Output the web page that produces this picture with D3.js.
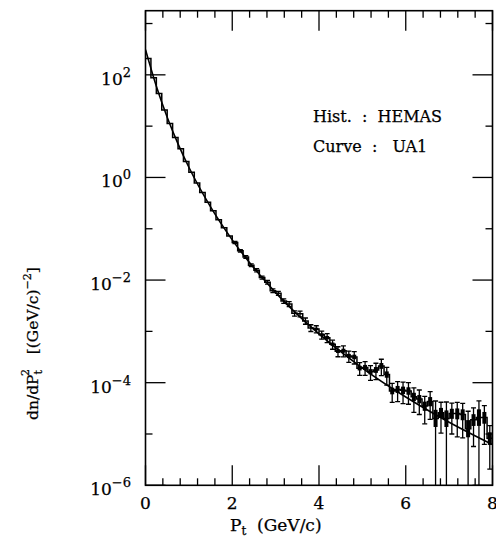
<!DOCTYPE html>
<html>
<head>
<meta charset="utf-8">
<script src="https://cdn.jsdelivr.net/npm/d3@7"></script>
<style>
  body { margin: 0; background: #fff; }
  text { font-family: "DejaVu Serif", serif; fill: #000; stroke: #000; stroke-width: 0.25; white-space: pre; }
</style>
</head>
<body>
<div id="chart"></div>
<script>
// histogram bins (HEMAS), width 0.125 GeV/c
var binWidth = 0.125;
var histValues = [
  208, 87.3, 43.3, 20.7, 11.2, 6.01, 3.61, 2.04,
  1.27, 0.778, 0.511, 0.327, 0.224, 0.149, 0.105, 0.0723,
  0.0538, 0.0371, 0.0283, 0.0195, 0.01556, 0.0112, 0.0091, 0.00621,
  0.00551, 0.00391, 0.00343, 0.00225, 0.00220, 0.00160, 0.00117, 0.00111,
  8.59e-4, 7.52e-4, 5.61e-4, 4.11e-4, 4.19e-4, 3.31e-4, 3.17e-4, 1.92e-4,
  1.98e-4, 1.63e-4, 1.77e-4, 2.12e-4, 1.44e-4, 6.9e-5, 7.4e-5, 7.1e-5,
  6.9e-5, 5.3e-5, 4.8e-5, 3.5e-5, 4.3e-5, 2.0e-5, 2.6e-5, 2.0e-5,
  2.5e-5, 2.5e-5, 2.4e-5, 1.26e-5, 1.9e-5, 2.1e-5, 2.1e-5, 8.3e-6
];
// relative errors of each bin
var histErrors = [
  0.02, 0.02, 0.02, 0.02, 0.02, 0.02, 0.02, 0.02,
  0.02, 0.02, 0.02, 0.02, 0.02, 0.02, 0.02, 0.02,
  0.05, 0.05, 0.06, 0.06, 0.07, 0.07, 0.08, 0.08,
  0.09, 0.10, 0.11, 0.12, 0.13, 0.14, 0.15, 0.16,
  0.18, 0.20, 0.20, 0.22, 0.24, 0.25, 0.27, 0.28,
  0.30, 0.32, 0.35, 0.35, 0.38, 0.40, 0.42, 0.45,
  0.45, 0.50, 0.50, 0.55, 0.55, 1.20, 0.60, 1.10,
  0.60, 0.65, 0.65, 1.20, 0.70, 1.10, 0.70, 0.75
];

// UA1 curve, points
var curvePt = [0, 0.25, 0.5, 0.75, 1, 1.5, 2, 2.5, 3, 3.5, 4, 5, 6, 7, 8];
var curveVal = [309, 59.6, 14.9, 4.52, 1.58, 0.267, 0.0608, 0.0172, 0.0057,
                0.00215, 8.9e-4, 1.93e-4, 5.25e-5, 1.69e-5, 6.2e-6];

var xMajor = [0, 2, 4, 6, 8];
var yMajorExp = [2, 0, -2, -4, -6];

var W = 496, H = 537;
var svg = d3.select("#chart").append("svg")
    .attr("width", W)
    .attr("height", H);

var x = d3.scaleLinear().domain([0, 8]).range([145.5, 492.5]);
var y = d3.scaleLog().domain([1e-6, Math.pow(10, 3.25)]).range([485.3, 10.7]).clamp(true);

var x0 = x(0), x1 = x(8), y0 = y.range()[0], y1 = y.range()[1];

// clip for the data
svg.append("clipPath").attr("id", "clip")
  .append("rect")
    .attr("x", x0).attr("y", y1)
    .attr("width", x1 - x0).attr("height", y0 - y1);

var plot = svg.append("g").attr("clip-path", "url(#clip)");

// histogram steps
var steps = [];
histValues.forEach(function (v, i) {
    steps.push([i * binWidth, v]);
    steps.push([(i + 1) * binWidth, v]);
});
var stepLine = d3.line()
    .x(function (d) { return x(d[0]); })
    .y(function (d) { return y(d[1]); });

plot.append("path")
    .datum(steps)
    .attr("d", stepLine)
    .attr("fill", "none")
    .attr("stroke", "#000")
    .attr("stroke-width", 1.5);

// error bars
var bins = histValues.map(function (v, i) {
    return {v: v, e: histErrors[i], c: (i + 0.5) * binWidth};
});

var bars = plot.append("g").selectAll("g")
    .data(bins.filter(function (d) { return d.e > 0.04; }))
    .enter().append("g");

bars.each(function (d) {
    var g = d3.select(this);
    var cx = x(d.c);
    var hi = d.v * (1 + d.e);
    var lo = d.v * (1 - d.e);
    g.append("line")
        .attr("x1", cx).attr("x2", cx)
        .attr("y1", y(hi))
        .attr("y2", lo > 0 ? y(lo) : y0)
        .attr("stroke", "#000").attr("stroke-width", 1.3);
    var ends = [hi];
    if (lo > 0) ends.push(lo);
    ends.forEach(function (e) {
        g.append("line")
            .attr("x1", cx - 2.5).attr("x2", cx + 2.5)
            .attr("y1", y(e)).attr("y2", y(e))
            .attr("stroke", "#000").attr("stroke-width", 1.3);
    });
    // dark block around the value
    if (d.e > 0.15) {
        var top = y(d.v * (1 + d.e * 0.4));
        var bot = y(d.v * (1 - Math.min(d.e, 0.9) * 0.35));
        g.append("rect")
            .attr("x", cx - 2)
            .attr("y", top)
            .attr("width", 4)
            .attr("height", bot - top)
            .attr("fill", "#000");
    }
});

// UA1 curve
var curveLine = d3.line()
    .x(function (d, i) { return x(curvePt[i]); })
    .y(function (d) { return y(d); })
    .curve(d3.curveMonotoneX);

plot.append("path")
    .datum(curveVal)
    .attr("d", curveLine)
    .attr("fill", "none")
    .attr("stroke", "#000")
    .attr("stroke-width", 1.6);

// frame
svg.append("rect")
    .attr("x", x0).attr("y", y1)
    .attr("width", x1 - x0).attr("height", y0 - y1)
    .attr("fill", "none")
    .attr("stroke", "#000")
    .attr("stroke-width", 1.6);

// ticks on all four sides
var axes = svg.append("g").attr("stroke", "#000").attr("stroke-width", 1.3);
var xTicks = d3.range(0, 8.001, 0.4);
xTicks.forEach(function (t) {
    var major = Math.abs(t / 2 - Math.round(t / 2)) < 1e-6;
    var len = major ? 20 : 7;
    axes.append("line").attr("x1", x(t)).attr("x2", x(t)).attr("y1", y0).attr("y2", y0 - len);
    axes.append("line").attr("x1", x(t)).attr("x2", x(t)).attr("y1", y1).attr("y2", y1 + len);
});
d3.range(-6, 4).forEach(function (e) {
    var major = e % 2 === 0;
    var len = major ? 20 : 7;
    var v = Math.pow(10, e);
    axes.append("line").attr("x1", x0).attr("x2", x0 + len).attr("y1", y(v)).attr("y2", y(v));
    axes.append("line").attr("x1", x1).attr("x2", x1 - len).attr("y1", y(v)).attr("y2", y(v));
});

// x tick labels
svg.append("g").selectAll("text")
    .data(xMajor)
    .enter().append("text")
    .attr("x", function (d) { return x(d); })
    .attr("y", 509)
    .attr("text-anchor", "middle")
    .attr("font-size", 17)
    .text(function (d) { return d; });

// y tick labels
var yl = svg.append("g").selectAll("text")
    .data(yMajorExp)
    .enter().append("text")
    .attr("x", 131)
    .attr("y", function (d) { return y(Math.pow(10, d)) + 10; })
    .attr("text-anchor", "end")
    .attr("font-size", 17);
yl.append("tspan").text("10");
yl.append("tspan")
    .attr("dy", -8)
    .attr("font-size", 13)
    .text(function (d) { return d < 0 ? "\u2212" + (-d) : d; });

// x title
var xt = svg.append("text")
    .attr("x", 230)
    .attr("y", 531)
    .attr("font-size", 17);
xt.append("tspan").text("P");
xt.append("tspan").attr("dy", 4).attr("font-size", 12).text("t");
xt.append("tspan").attr("dy", -4).text("  (GeV/c)");

// y title
var yt = svg.append("text")
    .attr("transform", "translate(38,420) rotate(-90)")
    .attr("font-size", 15.5);
yt.append("tspan").text("dn/dP");
yt.append("tspan").attr("dy", 4).attr("font-size", 11).text("t");
yt.append("tspan").attr("dx", -6).attr("dy", -13).attr("font-size", 11).text("2");
yt.append("tspan").attr("dy", 9).text("   [(GeV/c)");
yt.append("tspan").attr("dy", -7).attr("font-size", 11).text("\u22122");
yt.append("tspan").attr("dy", 7).text("]");

// annotation
svg.append("text").attr("x", 313).attr("y", 122).attr("font-size", 16).text("Hist.  :  HEMAS");
svg.append("text").attr("x", 313).attr("y", 152).attr("font-size", 16).text("Curve  :   UA1");
</script>
</body>
</html>
